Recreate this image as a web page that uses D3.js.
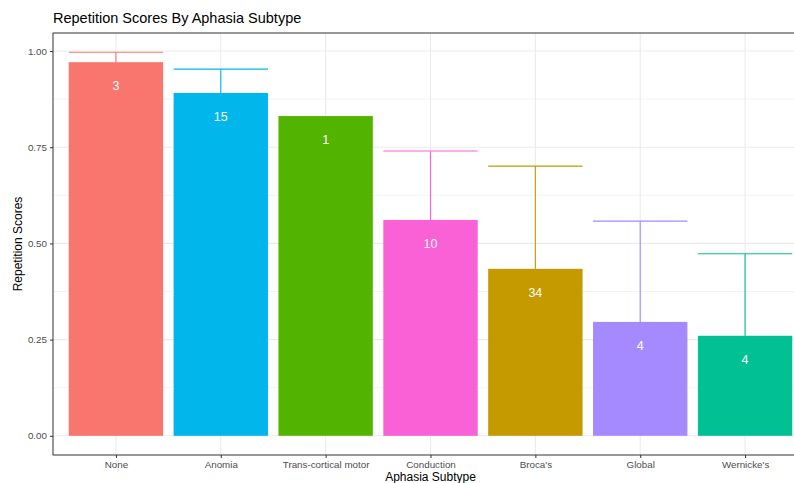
<!DOCTYPE html>
<html>
<head>
<meta charset="utf-8">
<script src="https://cdn.jsdelivr.net/npm/d3@7"></script>
<style>
  html, body { margin: 0; padding: 0; background: #fff; }
  svg { display: block; font-family: "Liberation Sans", Arial, Helvetica, sans-serif; }
</style>
</head>
<body>
<svg id="chart" width="794" height="483"></svg>
<script>
// Mean repetition score per aphasia subtype, with upper error bound and group size
const subtypes = ["None", "Anomia", "Trans-cortical motor", "Conduction", "Broca's", "Global", "Wernicke's"];
const meanScores = [0.971, 0.891, 0.831, 0.561, 0.434, 0.296, 0.260];
const upperScores = [0.997, 0.953, null, 0.740, 0.701, 0.558, 0.473];
const groupSizes = [3, 15, 1, 10, 34, 4, 4];
const fillColors = ["#F8766D", "#00B6EB", "#53B400", "#FB61D7", "#C49A00", "#A58AFF", "#00C094"];
const yTicks = [0, 0.25, 0.5, 0.75, 1.0];
const yMinorTicks = [0.125, 0.375, 0.625, 0.875];

const svg = d3.select("#chart");
const panel = { left: 53, right: 808, top: 33, bottom: 455 };

// Continuous y with 5% expansion on both sides of [0, max upper]
const yMax = d3.max(upperScores.concat(meanScores));
const pad = yMax * 0.05;
const y = d3.scaleLinear().domain([-pad, yMax + pad]).range([panel.bottom, panel.top]);

// Discrete x with 0.6 unit expansion on each side
const n = subtypes.length;
const unit = (panel.right - panel.left) / (n - 1 + 1.2);
const x = d3.scalePoint().domain(subtypes)
  .range([panel.left + 0.6 * unit, panel.right - 0.6 * unit]);
const barW = unit * 0.9;

const g = svg.append("g");

// Grid lines
g.selectAll("line.minor").data(yMinorTicks).join("line")
  .attr("x1", panel.left).attr("x2", panel.right)
  .attr("y1", d => y(d)).attr("y2", d => y(d))
  .attr("stroke", "#EBEBEB").attr("stroke-width", 0.6);
g.selectAll("line.major").data(yTicks).join("line")
  .attr("x1", panel.left).attr("x2", panel.right)
  .attr("y1", d => y(d)).attr("y2", d => y(d))
  .attr("stroke", "#EBEBEB").attr("stroke-width", 1.1);
g.selectAll("line.vgrid").data(subtypes).join("line")
  .attr("x1", d => x(d)).attr("x2", d => x(d))
  .attr("y1", panel.top).attr("y2", panel.bottom)
  .attr("stroke", "#EBEBEB").attr("stroke-width", 1.1);

const rows = subtypes.map((s, i) => ({
  s, mean: meanScores[i], upper: upperScores[i], n: groupSizes[i], color: fillColors[i]
}));

// Error bars (upper whisker + cap)
const eb = g.selectAll("g.err").data(rows.filter(r => r.upper != null)).join("g");
eb.append("line")
  .attr("x1", d => x(d.s)).attr("x2", d => x(d.s))
  .attr("y1", d => y(d.mean)).attr("y2", d => y(d.upper))
  .attr("stroke", d => d.color).attr("stroke-width", 1.1);
eb.append("line")
  .attr("x1", d => x(d.s) - barW / 2).attr("x2", d => x(d.s) + barW / 2)
  .attr("y1", d => y(d.upper)).attr("y2", d => y(d.upper))
  .attr("stroke", d => d.color).attr("stroke-width", 1.1);

// Bars
g.selectAll("rect.bar").data(rows).join("rect")
  .attr("x", d => x(d.s) - barW / 2)
  .attr("width", barW)
  .attr("y", d => y(d.mean))
  .attr("height", d => y(0) - y(d.mean))
  .attr("fill", d => d.color);

// Group size labels
g.selectAll("text.n").data(rows).join("text")
  .attr("x", d => x(d.s))
  .attr("y", d => y(d.mean) + 28)
  .attr("text-anchor", "middle")
  .attr("fill", "#fff")
  .attr("font-size", 12.5)
  .text(d => d.n);

// Panel border
g.append("rect")
  .attr("x", panel.left).attr("y", panel.top)
  .attr("width", panel.right - panel.left).attr("height", panel.bottom - panel.top)
  .attr("fill", "none").attr("stroke", "#333333").attr("stroke-width", 1);

// Axes
const yAxis = d3.axisLeft(y).tickValues(yTicks).tickFormat(d3.format(".2f")).tickSize(3).tickPadding(3);
const ya = svg.append("g").attr("transform", `translate(${panel.left},0)`).call(yAxis);
ya.select(".domain").remove();
ya.selectAll(".tick line").attr("stroke", "#333333");
ya.selectAll(".tick text").attr("fill", "#4D4D4D").attr("font-size", 9.8)
  .attr("font-family", "Liberation Sans, Arial, sans-serif");

const xAxis = d3.axisBottom(x).tickSize(3).tickPadding(3);
const xa = svg.append("g").attr("transform", `translate(0,${panel.bottom})`).call(xAxis);
xa.select(".domain").remove();
xa.selectAll(".tick line").attr("stroke", "#333333");
xa.selectAll(".tick text").attr("fill", "#4D4D4D").attr("font-size", 9.8)
  .attr("font-family", "Liberation Sans, Arial, sans-serif");

// Titles
svg.append("text").attr("x", panel.left).attr("y", 23)
  .attr("font-size", 14.5).attr("fill", "#000")
  .text("Repetition Scores By Aphasia Subtype");
svg.append("text").attr("x", (panel.left + panel.right) / 2).attr("y", 481)
  .attr("text-anchor", "middle").attr("font-size", 12).attr("fill", "#000")
  .text("Aphasia Subtype");
svg.append("text")
  .attr("transform", `translate(22,${(panel.top + panel.bottom) / 2}) rotate(-90)`)
  .attr("text-anchor", "middle").attr("font-size", 12).attr("fill", "#000")
  .text("Repetition Scores");
</script>
</body>
</html>
